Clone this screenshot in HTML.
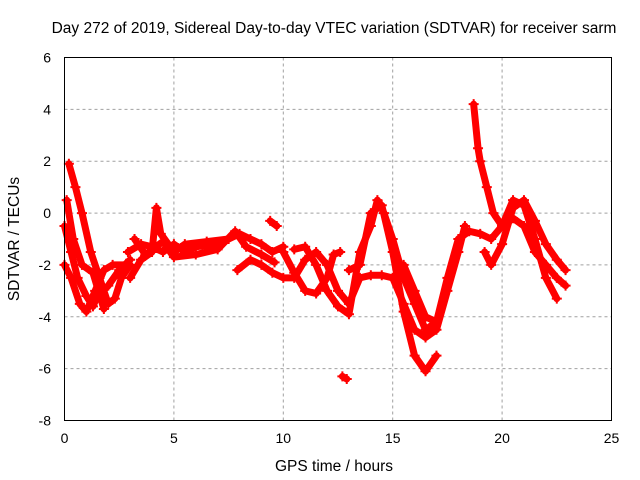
<!DOCTYPE html>
<html><head><meta charset="utf-8"><style>
body{margin:0;background:#fff}
svg{display:block;font-family:"Liberation Sans",sans-serif}
</style></head><body>
<svg id="chart" width="640" height="480">
<text x="334" y="33" font-size="15.5" text-anchor="middle" fill="#000">Day 272 of 2019, Sidereal Day-to-day VTEC variation (SDTVAR) for receiver sarm</text>
<text x="334" y="471" font-size="15.5" text-anchor="middle">GPS time / hours</text>
<text transform="translate(19,239) rotate(-90)" font-size="15.5" text-anchor="middle">SDTVAR / TECUs</text>
<g id="grid"></g><g id="marks"></g><g id="ticks"></g>
<rect x="64.5" y="57.5" width="547" height="363" fill="none" stroke="#000"/>
</svg>
<script>
const xTicks=[0,5,10,15,20,25];
const yTicks=[6,4,2,0,-2,-4,-6,-8];
const tracks=[
[[0,-0.5],[0.3,-1.5],[0.6,-2.5],[1,-3.2],[1.3,-3.6],[1.5,-3.2],[2,-2.8],[2.5,-2.2],[3,-1.8]],
[[0.2,1.9],[0.5,1],[0.8,0],[1.2,-1.5],[1.6,-2.5],[2,-3.5],[2.3,-3.3],[2.6,-2.5],[3,-2]],
[[0,-2],[0.3,-2.5],[0.7,-3.5],[1,-3.8],[1.4,-3],[1.8,-2.2],[2.2,-2],[2.8,-2]],
[[0.1,0.5],[0.4,-1],[0.8,-2],[1.3,-2.3],[1.8,-3.7]],
[[2.9,-1.5],[3.5,-1.2],[4,-1.3],[4.5,-1.5],[5,-1.2],[5.5,-1.5],[6,-1.3],[7,-1.2],[8,-0.8],[8.5,-1],[9,-1.2],[9.5,-1.5],[10,-1.3]],
[[3,-2.5],[3.5,-1.8],[4,-1.5],[4.2,0.2],[4.4,-0.8],[5,-1.5],[5.5,-1.2],[6.5,-1.1],[7.5,-1.0]],
[[3.2,-1.0],[3.7,-1.6],[4.5,-1.1],[5,-1.7],[6,-1.6],[7,-1.4],[7.8,-0.7],[8.3,-1.3],[9,-1.6],[9.6,-1.9]],
[[7.9,-2.2],[8.5,-1.8],[9,-2],[9.5,-2.3],[10,-2.5],[10.5,-2.5],[11,-1.8],[11.5,-1.5],[12,-2],[12.5,-3],[13,-3.5],[13.5,-2.5],[14,-2.4],[14.5,-2.4],[15,-2.5]],
[[9.4,-0.3],[9.7,-0.5]],
[[10,-1.5],[10.5,-2.3],[11,-3.0],[11.5,-3.1],[12,-2.5],[12.3,-1.6],[12.6,-1.5]],
[[10.5,-1.4],[11,-1.3],[11.5,-2],[12,-3],[12.5,-3.6],[13,-3.9],[13.5,-1.5],[14,-0.5],[14.3,0.5],[14.6,0],[15,-1],[15.5,-2.5],[16,-3.5],[16.5,-4.5],[17,-4.2]],
[[12.7,-6.3],[12.9,-6.4]],
[[13,-2.2],[13.5,-2],[14,0],[14.5,0.3],[15,-1.5],[15.5,-3.8],[16,-5.5],[16.5,-6.1],[17,-5.5]],
[[15,-2.5],[15.5,-3.5],[16,-4.5],[16.5,-4.8],[17,-4.5],[17.5,-3],[18,-1.5],[18.3,-0.5]],
[[15.5,-2],[16,-3],[16.5,-4],[17,-4.2],[17.5,-2.5],[18,-1],[18.5,-0.7],[19,-0.8],[19.5,-1],[20,-0.5],[20.5,0.5],[21,0.3],[21.5,-1],[22,-2.5],[22.5,-3.3]],
[[18.7,4.2],[18.9,2.5],[19,2],[19.3,1],[19.6,0],[20,-0.5],[20.5,-0.2],[21,-0.5],[21.5,-1.5],[22,-2],[22.5,-2.5],[22.9,-2.8]],
[[19.2,-1.5],[19.5,-2],[20,-1.2],[20.5,0.2],[21,0.5],[21.5,-0.3],[22,-1.2],[22.5,-1.8],[22.9,-2.2]]
];
const NS="http://www.w3.org/2000/svg";
const X=v=>64.5+v*547/25, Y=v=>57.5+(6-v)*363/14;
const grid=document.getElementById('grid'),ticks=document.getElementById('ticks'),marks=document.getElementById('marks');
function mk(tag,a,p){const e=document.createElementNS(NS,tag);for(const k in a)e.setAttribute(k,a[k]);p.appendChild(e);return e;}
xTicks.forEach(t=>{
 if(t>0&&t<25){const g=mk('line',{x1:X(t),x2:X(t),y1:57.5,y2:420.5,stroke:'#a0a0a0','stroke-dasharray':'3,3'},grid);
 
 }
 const l=mk('text',{x:X(t),y:443,'font-size':14,'text-anchor':'middle'},ticks);l.textContent=t;
 
 
});
yTicks.forEach(t=>{
 if(t<6&&t>-8){const g=mk('line',{x1:64.5,x2:611.5,y1:Y(t),y2:Y(t),stroke:'#a0a0a0','stroke-dasharray':'3,3'},grid);
 
 }
 const l=mk('text',{x:51,y:Y(t)+5,'font-size':14,'text-anchor':'end'},ticks);l.textContent=t;
 
 
});
tracks.forEach(tr=>{
 const pl=mk('polyline',{points:tr.map(p=>X(p[0])+','+Y(p[1])).join(' '),fill:'none',stroke:'#f00','stroke-width':7,'stroke-linejoin':'round','stroke-linecap':'round'},marks);
 
 
 tr.forEach(p=>{const x=X(p[0]),y=Y(p[1]);
  const m=mk('path',{d:`M${x-5},${y}H${x+5}M${x},${y-5}V${y+5}`,stroke:'#f00','stroke-width':2},marks);
  
  
 });
});
</script>
</body></html>
